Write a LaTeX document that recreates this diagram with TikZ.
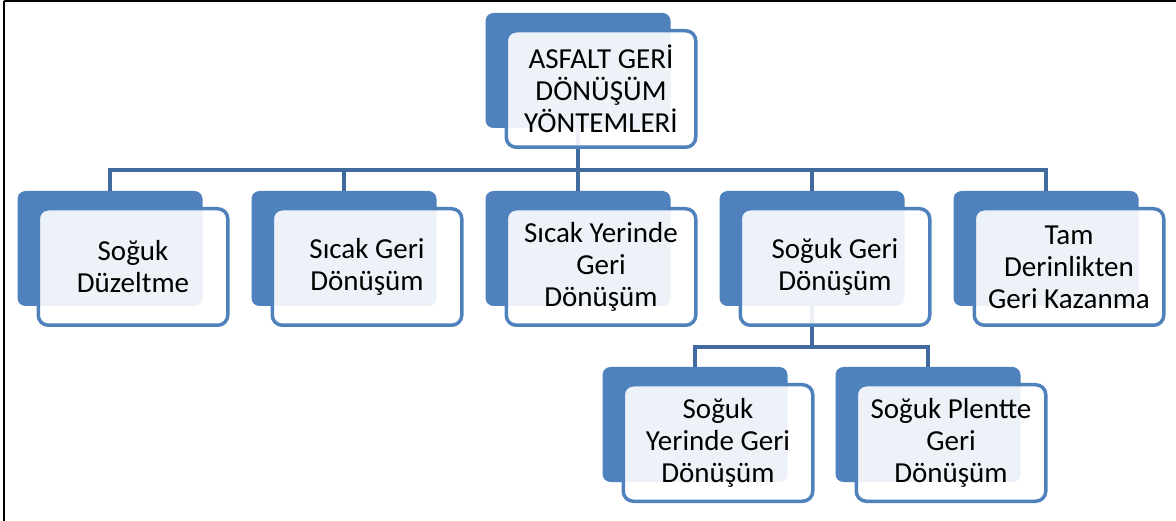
\documentclass[tikz,border=0pt]{standalone}
\usepackage{fontspec}
\setmainfont{Carlito}
\definecolor{boxblue}{RGB}{79,129,189}
\definecolor{linkblue}{RGB}{65,107,158}
\tikzset{
  backbox/.style={fill=boxblue, rounded corners=8pt, minimum width=185pt, minimum height=115pt, inner sep=0pt},
  frontbox/.style={draw=boxblue, line width=3.5pt, fill=white, fill opacity=0.9, text opacity=1,
    rounded corners=10pt, minimum width=189.5pt, minimum height=116.5pt, inner sep=0pt,
    align=center, font=\fontsize{29}{32}\selectfont},
  link/.style={draw=linkblue, line width=3.5pt}
}
\begin{document}
\begin{tikzpicture}[x=1pt,y=-1pt]
  \useasboundingbox (0,0) rectangle (1176,521);
  \draw[line width=2pt] (4,1.5) -- (1176,1.5);
  \draw[line width=2pt] (4,1.5) -- (4,521);
  % back boxes
  \node[backbox] (agd) at (578,70.5) {};
  \node[backbox] (sduz) at (110,248.5) {};
  \node[backbox] (sgd) at (344,248.5) {};
  \node[backbox] (syg) at (578,248.5) {};
  \node[backbox] (sogd) at (812,248.5) {};
  \node[backbox] (tdk) at (1046,248.5) {};
  \node[backbox] (syd) at (695,424.5) {};
  \node[backbox] (spd) at (928,424.5) {};
  \coordinate (bus) at (0,170);
  \coordinate (subbus) at (0,347);
  % connectors
  \foreach \c in {sduz,sgd,syg,sogd,tdk}
    \draw[link] (agd.south) -- (agd.south |- bus) -| (\c.north);
  \foreach \c in {syd,spd}
    \draw[link] (sogd.south) -- (sogd.south |- subbus) -| (\c.north);
  % front boxes
  \node[frontbox] (agdF) at ([shift={(23,18.5)}]agd.center) {ASFALT GERİ\\DÖNÜŞÜM\\YÖNTEMLERİ};
  \node[frontbox] (sduzF) at ([shift={(23,18.5)}]sduz.center) {Soğuk\\Düzeltme};
  \node[frontbox] (sgdF) at ([shift={(23,18.5)}]sgd.center) {Sıcak Geri\\Dönüşüm};
  \node[frontbox] (sygF) at ([shift={(23,18.5)}]syg.center) {Sıcak Yerinde\\Geri\\Dönüşüm};
  \node[frontbox] (sogdF) at ([shift={(23,18.5)}]sogd.center) {Soğuk Geri\\Dönüşüm};
  \node[frontbox] (tdkF) at ([shift={(23,18.5)}]tdk.center) {Tam\\Derinlikten\\Geri Kazanma};
  \node[frontbox] (sydF) at ([shift={(23,18.5)}]syd.center) {Soğuk\\Yerinde Geri\\Dönüşüm};
  \node[frontbox] (spdF) at ([shift={(23,18.5)}]spd.center) {Soğuk Plentte\\Geri\\Dönüşüm};
\end{tikzpicture}
\end{document}
